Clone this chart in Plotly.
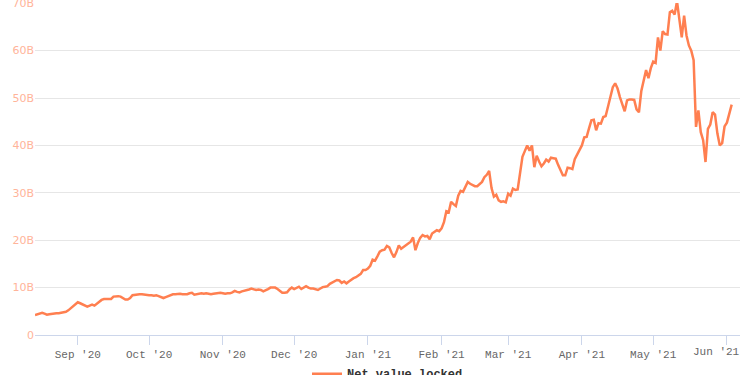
import pandas as pd
import plotly.graph_objects as go

start_date = "2020-08-14"
# Net value locked, billions USD, one value per day from 2020-08-14
tvl_billions = [
    4.2, 4.4, 4.6, 4.7, 4.5, 4.3, 4.4, 4.5, 4.5, 4.6,
    4.6, 4.7, 4.8, 4.9, 5.2, 5.6, 6.0, 6.5, 6.9, 6.7,
    6.5, 6.2, 6.0, 6.2, 6.4, 6.2, 6.6, 7.2, 7.4, 7.6,
    7.6, 7.7, 7.6, 8.1, 8.2, 8.2, 8.1, 7.8, 7.5, 7.5,
    7.8, 8.4, 8.5, 8.6, 8.6, 8.6, 8.5, 8.5, 8.4, 8.4,
    8.3, 8.4, 8.2, 7.9, 7.8, 8.0, 8.2, 8.4, 8.6, 8.6,
    8.7, 8.7, 8.6, 8.6, 8.6, 8.8, 8.9, 8.5, 8.6, 8.8,
    8.8, 8.7, 8.8, 8.7, 8.6, 8.7, 8.8, 8.9, 8.9, 8.8,
    8.7, 8.8, 8.8, 9.0, 9.3, 9.1, 9.0, 9.2, 9.3, 9.5,
    9.6, 9.8, 9.6, 9.5, 9.6, 9.5, 9.2, 9.4, 9.7, 10.0,
    10.0, 10.0, 9.7, 9.3, 8.9, 8.9, 9.0, 9.6, 10.0, 9.7,
    9.9, 10.2, 9.7, 10.0, 10.3, 10.0, 9.8, 9.8, 9.7, 9.5,
    9.8, 10.1, 10.2, 10.3, 10.8, 11.1, 11.3, 11.6, 11.5, 11.0,
    11.3, 10.9, 11.3, 11.7, 12.0, 12.2, 12.5, 12.9, 13.7, 13.7,
    14.0, 14.6, 15.9, 15.7, 16.6, 17.6, 17.9, 18.0, 18.8, 18.5,
    17.3, 16.4, 17.5, 18.9, 18.2, 18.6, 19.0, 19.3, 19.7, 20.6,
    17.9, 19.4, 20.5, 21.1, 20.8, 20.9, 20.2, 21.4, 21.8, 22.1,
    21.9, 22.5, 23.8, 26.1, 25.9, 28.1, 27.6, 27.2, 29.4, 30.4,
    30.2, 31.3, 32.3, 31.9, 31.6, 31.4, 31.4, 31.8, 32.3, 33.3,
    33.8, 34.6, 31.0, 29.2, 29.6, 28.4, 28.1, 28.2, 28.0, 29.8,
    29.4, 30.9, 30.6, 30.7, 34.5, 37.6, 38.8, 40.0, 38.9, 40.0,
    35.4, 37.8, 36.6, 35.6, 36.2, 37.0, 36.6, 37.4, 37.3, 37.2,
    35.9, 34.8, 33.7, 33.7, 35.3, 35.2, 35.0, 37.1, 38.0, 38.9,
    40.0, 41.7, 41.8, 43.6, 45.3, 45.4, 43.2, 44.7, 44.6, 46.0,
    46.2, 48.2, 50.5, 52.3, 53.1, 52.0, 50.2, 48.6, 47.2, 49.5,
    49.7, 49.7, 49.6, 47.6, 47.0, 51.5, 53.9, 55.9, 54.2, 56.3,
    57.7, 57.4, 62.8, 60.0, 64.1, 63.5, 63.4, 68.1, 68.4, 67.6,
    70.4, 66.3, 62.8, 67.4, 63.2, 61.1, 60.0, 58.0, 43.9, 47.4,
    42.8, 41.1, 36.5, 43.5, 44.4, 47.0, 46.5, 42.5, 40.0, 40.5,
    44.0, 44.8, 46.6, 48.6,
]
dates = pd.date_range(start_date, periods=len(tvl_billions), freq="D")

x_tick_dates = ["2020-09-01", "2020-10-01", "2020-11-01", "2020-12-01",
                "2021-01-01", "2021-02-01", "2021-03-01", "2021-04-01",
                "2021-05-01", "2021-06-01"]
x_tick_labels = ["Sep '20", "Oct '20", "Nov '20", "Dec '20", "Jan '21",
                 "Feb '21", "Mar '21", "Apr '21", "May '21", "Jun '21"]
y_tick_values = [0, 10, 20, 30, 40, 50, 60, 70]
y_tick_labels = ["0", "10B", "20B", "30B", "40B", "50B", "60B", "70B"]
series_name = "Net value locked"

mono = "Liberation Mono, Courier New, monospace"

fig = go.Figure()
fig.add_trace(go.Scatter(
    x=dates, y=tvl_billions, mode="lines", name=series_name,
    line=dict(color="#ff7f50", width=2.5),
))

# last month label is pulled inside the chart edge (as in the reference)
shown_labels = x_tick_labels[:-1] + [""]
fig.add_annotation(
    x=x_tick_dates[-1], xref="x", y=0, yref="paper", yanchor="top",
    text=x_tick_labels[-1], showarrow=False, xshift=-10, yshift=-9,
    font=dict(family=mono, size=11, color="#666666"),
)

fig.update_layout(
    width=750, height=375,
    margin=dict(l=35, r=10, t=3, b=40, autoexpand=False),
    paper_bgcolor="white", plot_bgcolor="white",
    showlegend=True,
    legend=dict(
        orientation="h", x=0.5, xanchor="center", y=-0.073, yanchor="top",
        font=dict(family=mono, size=12, color="#333333", weight="bold"),
        itemwidth=30,
    ),
    xaxis=dict(
        type="date",
        range=["2020-08-14", "2021-06-06 12:00"],
        tickvals=x_tick_dates, ticktext=shown_labels,
        ticks="outside", ticklen=9, tickcolor="#ccd6eb", tickwidth=1,
        showline=True, linecolor="#ccd6eb", linewidth=1,
        showgrid=False, zeroline=False, ticklabeloverflow="allow",
        tickfont=dict(family=mono, size=11, color="#666666"),
    ),
    yaxis=dict(
        range=[0, 70.05], tickvals=y_tick_values, ticktext=y_tick_labels,
        showgrid=True, gridcolor="#e6e6e6", gridwidth=1,
        zeroline=False, showline=False, ticks="", ticklabeloverflow="allow",
        tickfont=dict(family="DejaVu Sans, sans-serif", size=11, color="#ffb49a"),
    ),
)

fig.write_html("out.html")
